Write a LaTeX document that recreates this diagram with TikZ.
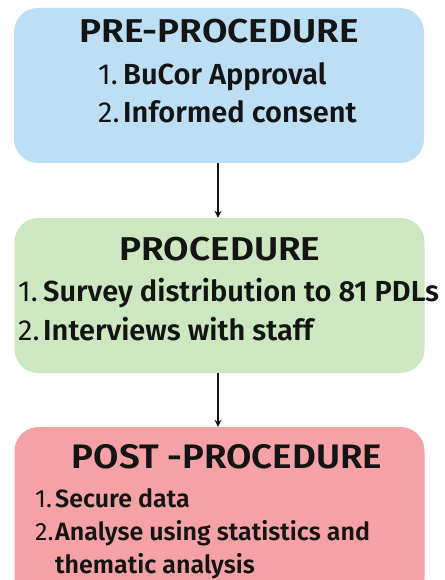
\documentclass[tikz,border=0pt]{standalone}
\usepackage{fontspec}
\setmainfont{Fira Sans}[BoldFont={Fira Sans SemiBold}]
\newfontfamily\titlefont{Fira Sans}[UprightFont={Fira Sans SemiBold}, FakeStretch=1.12]
\newfontfamily\titlefontR{Fira Sans}[UprightFont={Fira Sans SemiBold}, FakeStretch=1.08]
\definecolor{preC}{HTML}{BCDFF6}
\definecolor{procC}{HTML}{CDE8C0}
\definecolor{postC}{HTML}{F5A2A6}
\definecolor{inkC}{HTML}{141414}
\tikzset{
  stagebox/.style={draw=none, rounded corners=24pt, inner sep=0pt},
  ttl/.style={anchor=base, inner sep=0pt, text=inkC, font=\fontsize{33}{35}\titlefont},
  num/.style={anchor=base west, inner sep=0pt, text=inkC, font=\fontsize{29}{31}\selectfont\mdseries},
  itm/.style={anchor=base west, inner sep=0pt, text=inkC, font=\fontsize{29}{31}\selectfont\bfseries},
  numS/.style={num, font=\fontsize{25}{27}\selectfont\mdseries},
  itmS/.style={itm, font=\fontsize{25}{27}\selectfont\bfseries},
  flow/.style={draw=inkC, line width=1.5pt, -{Stealth[length=7pt,width=7pt]}}
}
\usetikzlibrary{arrows.meta}
\begin{document}
\begin{tikzpicture}[x=1pt,y=-1pt]
\clip (0,0) rectangle (444,580);
\fill[white] (0,0) rectangle (444,580);
\node[stagebox, fill=preC, minimum width=410pt, minimum height=155pt] (pre) at (219,85.5) {};
\node[stagebox, fill=procC, minimum width=410pt, minimum height=155pt] (proc) at (219.5,295.5) {};
\node[stagebox, fill=postC, minimum width=410pt, minimum height=175pt] (post) at (219.5,514.5) {};
% pre
\node[ttl] (t1) at (219,43) {PRE-PROCEDURE};
\node[num] (n11) at (98,85) {1.};
\node[itm] (i11) at (123,85) {BuCor Approval};
\node[num] (n12) at (98,123) {2.};
\node[itm] (i12) at (123,123) {Informed consent};
% proc
\node[ttl] (t2) at (220,260) {PROCEDURE};
\node[num] (n21) at (18,301) {1.};
\node[itm] (i21) at (43,301) {Survey distribution to 81 PDLs};
\node[num] (n22) at (18,340) {2.};
\node[itm] (i22) at (43,340) {Interviews with staff};
% post
\node[ttl, font=\fontsize{34}{36}\titlefontR] (t3) at (227,468) {POST -PROCEDURE};
\node[numS] (n31) at (35,507) {1.};
\node[itmS] (i31) at (55,507) {Secure data};
\node[numS] (n32) at (35,540) {2.};
\node[itmS] (i32) at (55,540) {Analyse using statistics and};
\node[itmS] (i33) at (55,573) {thematic analysis};
% arrows
\coordinate (a1s) at (218,163);
\coordinate (a1e) at (218,218);
\coordinate (a2s) at (218,373);
\coordinate (a2e) at (218,427);
\draw[flow] (pre.south -| a1s) -- (proc.north -| a1e);
\draw[flow] (proc.south -| a2s) -- (post.north -| a2e);
\end{tikzpicture}
\end{document}
